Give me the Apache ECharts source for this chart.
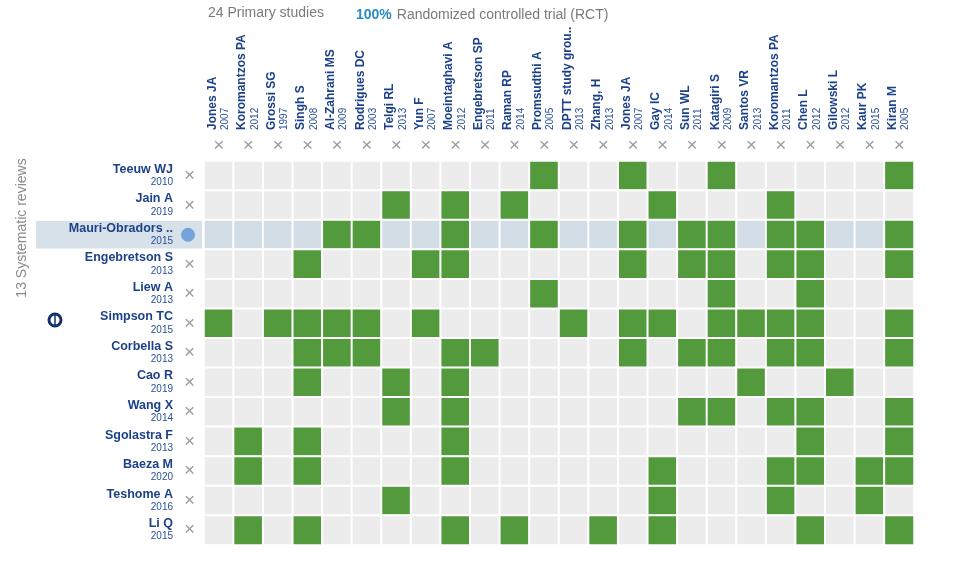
<!DOCTYPE html>
<html>
<head>
<meta charset="utf-8">
<script src="https://cdn.jsdelivr.net/npm/echarts@6/dist/echarts.min.js"></script>
<style>
html, body { margin: 0; padding: 0; background: #fff; }
#matrix { width: 957px; height: 563px; }
</style>
</head>
<body>
<div id="matrix"></div>
<script>
// primary studies (columns)
var studies = ['Jones JA', 'Koromantzos PA', 'Grossi SG', 'Singh S', 'Al-Zahrani MS', 'Rodrigues DC', 'Telgi RL', 'Yun F',
    'Moeintaghavi A', 'Engebretson SP', 'Raman RP', 'Promsudthi A', 'DPTT study grou..', 'Zhang, H', 'Jones JA ', 'Gay IC',
    'Sun WL', 'Katagiri S', 'Santos VR', 'Koromantzos PA ', 'Chen L', 'Gilowski L', 'Kaur PK', 'Kiran M'];
var studyYears = [2007, 2012, 1997, 2008, 2009, 2003, 2013, 2007, 2012, 2011, 2014, 2005, 2013, 2013, 2007, 2014,
    2011, 2009, 2013, 2011, 2012, 2012, 2015, 2005];

// systematic reviews (rows)
var reviews = ['Teeuw WJ', 'Jain A', 'Mauri-Obradors ..', 'Engebretson S', 'Liew A', 'Simpson TC', 'Corbella S',
    'Cao R', 'Wang X', 'Sgolastra F', 'Baeza M', 'Teshome A', 'Li Q'];
var reviewYears = [2010, 2019, 2015, 2013, 2013, 2015, 2013, 2019, 2014, 2013, 2020, 2016, 2015];

// which studies each review includes (column indexes)
var included = [
    [11, 14, 17, 23],
    [6, 8, 10, 15, 19],
    [4, 5, 8, 11, 14, 16, 17, 19, 20, 23],
    [3, 7, 8, 14, 16, 17, 19, 20, 23],
    [11, 17, 20],
    [0, 2, 3, 4, 5, 7, 12, 14, 15, 17, 18, 19, 20, 23],
    [3, 4, 5, 8, 9, 14, 16, 17, 19, 20, 23],
    [3, 6, 8, 18, 21],
    [6, 8, 16, 17, 19, 20, 23],
    [1, 3, 8, 20, 23],
    [1, 3, 8, 15, 19, 20, 22, 23],
    [6, 15, 19, 22],
    [1, 3, 8, 10, 13, 15, 20, 23]
];
var highlightRow = 2;

var font = 'Liberation Sans, Arial, sans-serif';
var blue = '#1d4189';

var cells = [];
for (var r = 0; r < reviews.length; r++) {
    for (var c = 0; c < studies.length; c++) {
        var v = included[r].indexOf(c) >= 0 ? 1 : (r === highlightRow ? 2 : 0);
        cells.push([c, r, v]);
    }
}

var matrix = echarts.init(document.getElementById('matrix'));

var matrix_option = {
    backgroundColor: '#fff',
    animation: false,
    title: [
        {
            text: '24 Primary studies',
            left: 203,
            top: 1,
            textStyle: { fontFamily: font, fontSize: 14, fontWeight: 'normal', color: '#7a7a7a' }
        },
        {
            text: '{b|100%} {c|Randomized controlled trial (RCT)}',
            left: 351,
            top: 1,
            textStyle: {
                fontFamily: font,
                fontWeight: 'normal',
                rich: {
                    b: { fontFamily: font, fontSize: 14, fontWeight: 'bold', color: '#2b8bc8' },
                    c: { fontFamily: font, fontSize: 14, fontWeight: 'normal', color: '#7a7a7a' }
                }
            }
        }
    ],
    grid: {
        left: 204,
        right: 43,
        top: 161,
        bottom: 18
    },
    visualMap: {
        type: 'piecewise',
        show: false,
        dimension: 2,
        pieces: [
            { value: 0, color: '#ececec' },
            { value: 1, color: '#529a3c' },
            { value: 2, color: '#d3dde5' }
        ]
    },
    xAxis: [
        {
            type: 'category',
            position: 'top',
            data: studies,
            axisLine: { show: false },
            axisTick: { show: false },
            splitLine: { show: false },
            axisLabel: {
                interval: 0,
                rotate: -90,
                margin: 31,
                formatter: function (value, index) {
                    return '{n|' + value.trim() + '}\n{y|' + studyYears[index] + '}';
                },
                rich: {
                    n: { fontFamily: font, fontSize: 12, fontWeight: 'bold', color: blue, lineHeight: 13 },
                    y: { fontFamily: font, fontSize: 10, color: '#2a4f96', lineHeight: 13 }
                }
            }
        },
        {
            type: 'category',
            position: 'top',
            offset: 0,
            data: studies,
            axisLine: { show: false },
            axisTick: { show: false },
            axisLabel: {
                interval: 0,
                margin: 6,
                formatter: function () { return '×'; },
                fontFamily: font,
                fontSize: 19,
                color: '#9c9c9c'
            }
        }
    ],
    yAxis: [
        {
            type: 'category',
            inverse: true,
            data: reviews,
            axisLine: { show: false },
            axisTick: { show: false },
            splitLine: { show: false },
            axisLabel: {
                interval: 0,
                margin: 31,
                formatter: function (value, index) {
                    return '{n|' + value + '}\n{y|' + reviewYears[index] + '}';
                },
                rich: {
                    n: { fontFamily: font, fontSize: 12.5, fontWeight: 'bold', color: blue, lineHeight: 13, align: 'right' },
                    y: { fontFamily: font, fontSize: 10, color: '#2a4f96', lineHeight: 13, align: 'right' }
                }
            }
        },
        {
            type: 'category',
            inverse: true,
            offset: 0,
            position: 'left',
            data: reviews,
            axisLine: { show: false },
            axisTick: { show: false },
            axisLabel: {
                interval: 0,
                margin: 9,
                formatter: function (value, index) {
                    return index === highlightRow ? '{dot|}' : '{x|×}';
                },
                rich: {
                    x: { fontFamily: font, fontSize: 19, color: '#9c9c9c' },
                    dot: { width: 14, height: 14, borderRadius: 7, backgroundColor: '#74a3da' }
                }
            }
        }
    ],
    series: [
        {
            name: 'included',
            type: 'heatmap',
            xAxisIndex: 0,
            yAxisIndex: 0,
            data: cells,
            itemStyle: { borderColor: '#fff', borderWidth: 2 },
            emphasis: { disabled: true }
        }
    ]
};

matrix.setOption(matrix_option);

// band behind the highlighted review label + side decorations
var rowY = matrix.convertToPixel({ yAxisIndex: 0 }, highlightRow);
var rowH = (563 - 161 - 18) / reviews.length;
matrix.setOption({
    graphic: [
        {
            type: 'rect',
            z: -1,
            shape: { x: 36, y: rowY - rowH / 2 + 1, width: 166, height: rowH - 2 },
            style: { fill: '#d6e1ea' }
        },
        {
            type: 'text',
            x: 22,
            y: 228,
            rotation: Math.PI / 2,
            style: {
                text: '13 Systematic reviews',
                font: '14px Liberation Sans',
                fill: '#8a8a8a',
                align: 'center',
                verticalAlign: 'middle'
            }
        },
        {
            type: 'circle',
            shape: { cx: 55, cy: 320, r: 6 },
            style: { fill: 'none', stroke: '#13306e', lineWidth: 3 }
        },
        {
            type: 'line',
            shape: { x1: 55, y1: 315, x2: 55, y2: 325 },
            style: { stroke: '#13306e', lineWidth: 1.5 }
        }
    ]
});
</script>
</body>
</html>
